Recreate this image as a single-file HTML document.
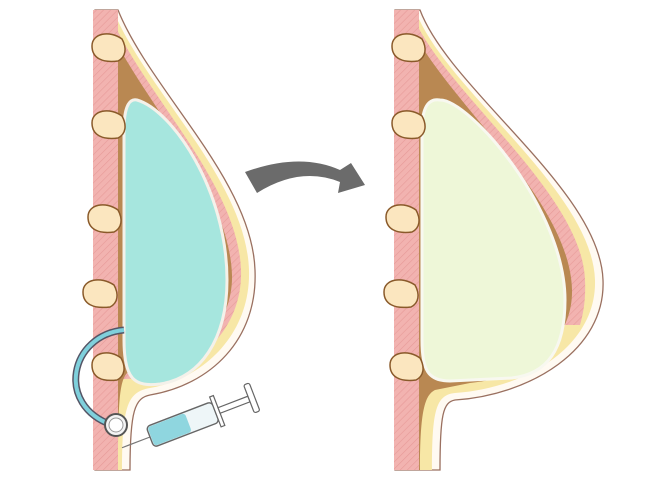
<!DOCTYPE html>
<html><head><style>html,body{margin:0;padding:0;background:#fff}svg{display:block}</style></head>
<body>
<svg width="667" height="500" viewBox="0 0 667 500" xmlns="http://www.w3.org/2000/svg">
<defs>
<pattern id="hatch" width="5" height="5" patternUnits="userSpaceOnUse" patternTransform="rotate(45)">
<rect width="5" height="5" fill="#f2b3b0"/><line x1="0" y1="0" x2="0" y2="5" stroke="#e79a98" stroke-width="1.2"/>
</pattern>
</defs>
<!-- LEFT -->
<g>
<path d="M118,10 C150,90 252,180 255,270 C258,340 210,385 150,395 C135,398 130,410 130,470 L95,470 L95,10 Z" fill="#fffaf2" stroke="#9a7060" stroke-width="1.3"/>
<path d="M114,12 C146,90 246,180 249,270 C251,332 206,378 150,388 C128,392 122,405 122,470 L95,470 L95,12 Z" fill="#f7e7a6"/>
<path d="M110,14 C140,90 238,182 241,270 C243,325 202,368 150,378 L100,380 L100,14 Z" fill="url(#hatch)"/>
<path d="M106,20 C134,92 229,185 232,275 C233,322 198,362 150,370 L128,372 C120,380 118,395 118,470 L100,470 L100,20 Z" fill="#b98852"/>
<rect x="93" y="10" width="25" height="460" fill="url(#hatch)"/>
<path d="M137,100 C172,110 227,190 227,280 C227,340 200,378 160,384 C135,387 124,380 124,340 L124,130 C124,110 128,98 137,100 Z" fill="#a6e6de" stroke="#f4f1ea" stroke-width="3"/>
<g fill="#fbe6bf" stroke="#8a5a2a" stroke-width="1.5">
<path d="M92,46 C92,33 110,30 122,39 C127,48 126,57 118,61 C102,63 92,58 92,46 Z"/>
<path d="M92,123 C92,110 110,107 122,116 C127,125 126,134 118,138 C102,140 92,135 92,123 Z"/>
<path d="M88,217 C88,204 106,201 118,210 C123,219 122,228 114,232 C98,234 88,229 88,217 Z"/>
<path d="M83,292 C83,279 101,276 114,285 C119,294 118,303 110,307 C93,309 83,304 83,292 Z"/>
<path d="M92,365 C92,352 110,349 121,358 C126,367 125,376 117,380 C101,382 92,377 92,365 Z"/>
</g>
<!-- tube -->
<path d="M124,330 C70,335 55,405 112,425" fill="none" stroke="#556" stroke-width="7"/>
<path d="M124,330 C70,335 55,405 112,425" fill="none" stroke="#7fd0dc" stroke-width="4"/>
<circle cx="116" cy="425" r="11" fill="#f4f4f4" stroke="#555" stroke-width="2"/>
<circle cx="116" cy="425" r="7" fill="#fff" stroke="#999" stroke-width="1"/>
<!-- syringe -->
<g transform="translate(150,437) rotate(-21)">
<line x1="-30" y1="0" x2="0" y2="0" stroke="#777" stroke-width="1.2"/>
<rect x="0" y="-11" width="70" height="22" rx="4" fill="#eef6f8" stroke="#666" stroke-width="1.4"/>
<rect x="1" y="-10" width="40" height="20" rx="3" fill="#8fd6df"/>
<rect x="70" y="-16" width="4" height="32" fill="#fff" stroke="#666" stroke-width="1.2"/>
<rect x="74" y="-3" width="32" height="6" fill="#fff" stroke="#666" stroke-width="1.2"/>
<rect x="106" y="-15" width="6" height="30" rx="2" fill="#fff" stroke="#666" stroke-width="1.2"/>
</g>
</g>
<!-- Arrow -->
<path d="M245,172 Q300,152 340,170 L351,163 L365,185 L338,193 L340,182 Q300,166 257,193 Z" fill="#6b6b6b"/>
<!-- RIGHT -->
<g>
<path d="M420,10 C450,90 600,190 603,280 C606,350 530,395 455,400 C443,402 440,415 440,470 L395,470 L395,10 Z" fill="#fffaf2" stroke="#9a7060" stroke-width="1.3"/>
<path d="M416,12 C446,90 592,190 595,280 C597,345 528,388 455,393 C436,395 432,410 432,470 L395,470 L395,12 Z" fill="#f7e7a6"/>
<path d="M412,14 C442,90 582,192 585,280 C586,300 583,315 580,325 L400,325 L400,14 Z" fill="url(#hatch)"/>
<path d="M408,20 C436,92 570,196 572,290 C573,345 522,378 470,383 L435,390 C425,395 420,410 420,470 L400,470 L400,20 Z" fill="#b98852"/>
<rect x="394" y="10" width="25" height="460" fill="url(#hatch)"/>
<path d="M440,100 C470,100 565,210 565,300 C565,350 547,374 512,378 L450,381 C428,381 422,370 422,340 L422,130 C422,108 428,98 440,100 Z" fill="#eef7d8" stroke="#f8f8f0" stroke-width="3"/>
<g fill="#fbe6bf" stroke="#8a5a2a" stroke-width="1.5">
<path d="M392,46 C392,33 410,30 422,39 C427,48 426,57 418,61 C402,63 392,58 392,46 Z"/>
<path d="M392,123 C392,110 410,107 422,116 C427,125 426,134 418,138 C402,140 392,135 392,123 Z"/>
<path d="M386,217 C386,204 404,201 416,210 C421,219 420,228 412,232 C396,234 386,229 386,217 Z"/>
<path d="M384,292 C384,279 402,276 415,285 C420,294 419,303 411,307 C394,309 384,304 384,292 Z"/>
<path d="M390,365 C390,352 408,349 420,358 C425,367 424,376 416,380 C400,382 390,377 390,365 Z"/>
</g>
</g>
</svg>
</body></html>
